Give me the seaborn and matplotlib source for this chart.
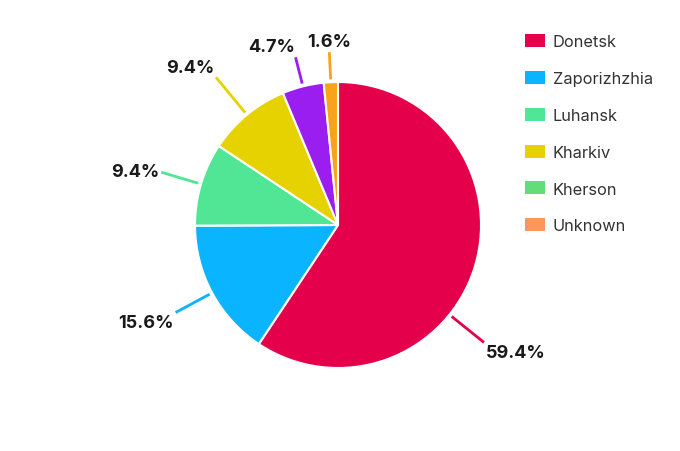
import numpy as np
import matplotlib
matplotlib.use("Agg")
import matplotlib.pyplot as plt
import seaborn as sns
from matplotlib.patches import Patch

# data
regions = ["Donetsk", "Zaporizhzhia", "Luhansk", "Kharkiv", "Kherson", "Unknown"]
shares = [59.4, 15.6, 9.4, 9.4, 4.7, 1.6]
slice_colors = ["#E4004B", "#0AB4FF", "#50E696", "#E6D200", "#9B1EF0", "#F9A21B"]
legend_colors = ["#E4004B", "#0AB4FF", "#50E696", "#E6D200", "#64DC78", "#FF965A"]

sns.set_theme(style="white")
plt.rcParams['font.family'] = ['Inter', 'DejaVu Sans']

fig = plt.figure(figsize=(6.8, 4.52), dpi=100)
R = 143  # pie radius in px
lim = 1.55
ax = fig.add_axes([(338 - lim * R) / 680, (226 - lim * R) / 452,
                   2 * lim * R / 680, 2 * lim * R / 452])

wedges, _ = ax.pie(shares, colors=slice_colors, startangle=90, counterclock=False,
                   wedgeprops=dict(edgecolor='white', linewidth=1.5))
ax.set_xlim(-lim, lim)
ax.set_ylim(-lim, lim)
ax.set_aspect('equal')
ax.axis('off')

for w, pct, col in zip(wedges, shares, slice_colors):
    ang = (w.theta1 + w.theta2) / 2
    if pct > 50:
        ang -= 22  # big slice label sits lower, away from the legend
    c, s = np.cos(np.radians(ang)), np.sin(np.radians(ang))
    r0 = 1.02
    if pct < 5:
        r1 = 1.21
    elif pct > 50:
        r1 = 1.31
    elif 0.5 < abs(c) < 0.8:
        r1 = 1.34
    else:
        r1 = 1.29
    ax.plot([r0 * c, r1 * c], [r0 * s, r1 * s], color=col, lw=2, solid_capstyle='butt')
    ha = 'left' if c > 0.15 else ('right' if c < -0.15 else 'center')
    va = 'bottom' if s > 0.3 else ('top' if s < -0.3 else 'center')
    ax.text((r1 + 0.015) * c, (r1 + 0.015) * s, f"{pct}%", ha=ha, va=va,
            fontsize=13, fontweight='bold', color='#1a1a1a')

handles = [Patch(facecolor=col, edgecolor='none') for col in legend_colors]
fig.legend(handles, regions, loc='upper left', bbox_to_anchor=(525 / 680, 1 - 35 / 452),
           frameon=False, fontsize=11.8, handlelength=1.25, handleheight=0.85,
           handletextpad=0.45, labelspacing=1.32, borderpad=0, borderaxespad=0,
           labelcolor='#333333')

fig.savefig("out.png", dpi=100)
